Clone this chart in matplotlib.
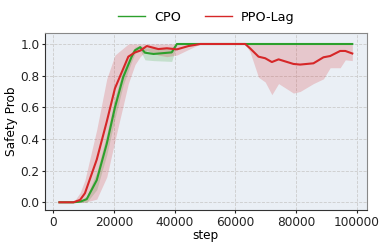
import matplotlib
matplotlib.use("Agg")
import matplotlib.pyplot as plt
import numpy as np

# CPO
cpo_x = [2000, 6600, 9000, 11000, 14300, 17600, 20300, 23000, 25800, 26900, 28600, 30200, 33000, 39000, 40700, 50000, 60000, 70000, 80000, 90000, 98500]
cpo_y = [0.0, 0.0, 0.005, 0.02, 0.14, 0.37, 0.60, 0.79, 0.92, 0.96, 0.98, 0.945, 0.937, 0.947, 1.0, 1.0, 1.0, 1.0, 1.0, 1.0, 1.0]
cpo_lo = [0.0, 0.0, 0.0, 0.0, 0.08, 0.30, 0.53, 0.74, 0.89, 0.94, 0.96, 0.90, 0.895, 0.89, 1.0, 1.0, 1.0, 1.0, 1.0, 1.0, 1.0]
cpo_hi = [0.0, 0.0, 0.01, 0.04, 0.19, 0.43, 0.66, 0.84, 0.95, 0.98, 0.99, 0.975, 0.975, 0.98, 1.0, 1.0, 1.0, 1.0, 1.0, 1.0, 1.0]

# PPO-Lag
ppo_x = [2000, 6600, 8800, 10400, 14300, 17600, 20300, 24700, 26900, 28600, 30800, 34600, 37400, 40700, 44500, 48400, 55000, 63200,
         64800, 67600, 69800, 72000, 74200, 79100, 81300, 85700, 89000, 91200, 94500, 96200, 98500]
ppo_y = [0.0, 0.0, 0.015, 0.057, 0.27, 0.51, 0.72, 0.92, 0.947, 0.958, 0.987, 0.968, 0.973, 0.966, 0.987, 1.0, 1.0, 1.0,
         0.973, 0.92, 0.91, 0.886, 0.903, 0.874, 0.87, 0.878, 0.916, 0.924, 0.956, 0.956, 0.94]
ppo_lo = [0.0, 0.0, 0.0, 0.0, 0.02, 0.16, 0.39, 0.75, 0.87, 0.92, 0.96, 0.93, 0.92, 0.93, 0.965, 1.0, 1.0, 1.0,
          0.95, 0.79, 0.76, 0.68, 0.75, 0.69, 0.70, 0.75, 0.78, 0.85, 0.85, 0.90, 0.895]
ppo_hi = [0.0, 0.0, 0.06, 0.14, 0.46, 0.78, 0.93, 1.0, 1.0, 1.0, 1.0, 1.0, 1.0, 1.0, 1.0, 1.0, 1.0, 1.0,
          1.0, 1.0, 1.0, 1.0, 1.0, 1.0, 1.0, 1.0, 1.0, 1.0, 1.0, 1.0, 1.0]

xticks = [0, 20000, 40000, 60000, 80000, 100000]
yticks = [0.0, 0.2, 0.4, 0.6, 0.8, 1.0]

green = "#2ca02c"
red = "#d62728"

fig = plt.figure(figsize=(3.89, 2.48), dpi=100)
ax = fig.add_axes([0.1157, 0.153, 0.827, 0.713])
ax.set_facecolor("#eaeff5")

ax.fill_between(cpo_x, cpo_lo, cpo_hi, color=green, alpha=0.2, linewidth=0)
ax.fill_between(ppo_x, ppo_lo, ppo_hi, color=red, alpha=0.2, linewidth=0)
l1, = ax.plot(cpo_x, cpo_y, color=green, lw=1.5, label="CPO")
l2, = ax.plot(ppo_x, ppo_y, color=red, lw=1.5, label="PPO-Lag")

ax.set_xlim(-2750, 103250)
ax.set_ylim(-0.049, 1.068)
ax.set_xticks(xticks)
ax.set_yticks(yticks)
ax.set_yticklabels([f"{v:.1f}" for v in yticks])
ax.tick_params(labelsize=8.7, length=2.5, width=0.8, pad=1.5, colors="#222222")
ax.grid(True, linestyle="--", color="#cccccc", linewidth=0.6)
ax.set_axisbelow(True)
for s in ["left", "bottom"]:
    ax.spines[s].set_color("#333333")
for s in ["top", "right"]:
    ax.spines[s].set_color("#888888")
ax.set_xlabel("step", fontsize=8.7, labelpad=0.5)
ax.set_ylabel("Safety Prob", fontsize=8.7)
ax.yaxis.set_label_coords(-0.083, 0.5)

fig.legend(handles=[l1, l2], loc="center", bbox_to_anchor=(0.53, 0.93), ncol=2,
           frameon=False, fontsize=9.2, handlelength=2.1, handletextpad=0.7, columnspacing=1.9)
for line in fig.legends[0].get_lines():
    line.set_linewidth(1.0)

fig.savefig("out.png", dpi=100)
